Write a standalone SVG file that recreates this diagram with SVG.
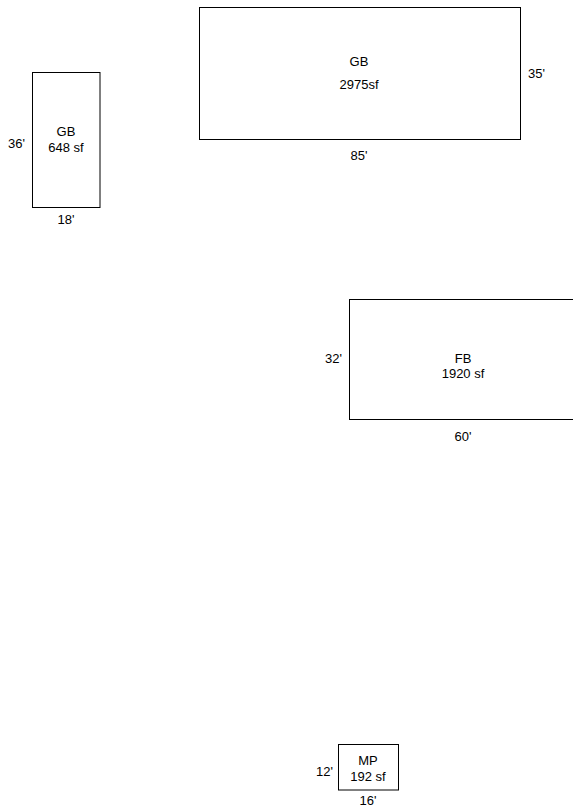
<svg xmlns="http://www.w3.org/2000/svg" width="573" height="808" viewBox="0 0 573 808">
<style>
rect{fill:#fff;stroke:#000;stroke-width:1}
text{font-family:"Liberation Sans",Arial,sans-serif;font-size:13px;fill:#000}
.m{text-anchor:middle}
</style>
<rect x="0" y="0" width="573" height="808" style="stroke:none"/>
<g id="gb-small">
<rect x="32.5" y="72.5" width="67.5" height="135"/>
<text class="m" x="66" y="136">GB</text>
<text class="m" x="66" y="152">648 sf</text>
<text x="8" y="148">36'</text>
<text class="m" x="66" y="224">18'</text>
</g>
<g id="gb-large">
<rect x="199.5" y="7.5" width="321" height="132"/>
<text class="m" x="359" y="66">GB</text>
<text class="m" x="359" y="89">2975sf</text>
<text x="528" y="78">35'</text>
<text class="m" x="359" y="160">85'</text>
</g>
<g id="fb">
<rect x="349.5" y="299.5" width="226" height="120"/>
<text class="m" x="463" y="363">FB</text>
<text class="m" x="463" y="378">1920 sf</text>
<text x="325" y="363">32'</text>
<text class="m" x="463" y="441">60'</text>
</g>
<g id="mp">
<rect x="338.5" y="744.5" width="60" height="45.5"/>
<text class="m" x="368" y="765">MP</text>
<text class="m" x="368" y="781">192 sf</text>
<text x="316" y="776">12'</text>
<text class="m" x="368" y="805">16'</text>
</g>
<g id="connectors"></g>
</svg>
